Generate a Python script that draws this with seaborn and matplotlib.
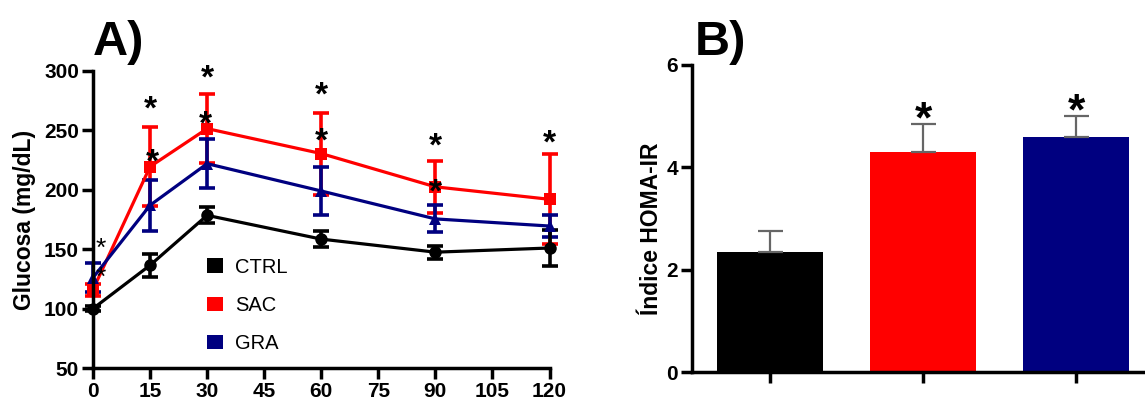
import numpy as np
import pandas as pd
import seaborn as sns
import matplotlib.pyplot as plt
from matplotlib.patches import Patch
from matplotlib.transforms import offset_copy

sns.set_style('ticks')
plt.rcParams['font.family'] = ['Liberation Sans', 'DejaVu Sans']
for k in ['text.color', 'axes.labelcolor', 'xtick.color', 'ytick.color', 'axes.edgecolor']:
    plt.rcParams[k] = 'black'

# --- data: panel A (glucose curve) ---
tiempo = [0, 15, 30, 60, 90, 120]
ctrl_media = [100, 136.5, 178.5, 158.5, 147.5, 151]
ctrl_ee = [2, 9.5, 6.7, 6.5, 5.5, 15]
sac_media = [116, 219.5, 251.5, 230.5, 202.5, 192]
sac_ee = [5, 33.5, 29, 34.5, 22, 38]
gra_media = [126, 187, 222, 199, 175.5, 169.5]
gra_ee = [12, 21.5, 20.5, 20.5, 11.3, 9.3]

# asterisks panel A (x, y, size)
ast_x = [2, 2, 15, 15.5, 30, 29.5, 60, 60, 90, 90, 120]
ast_y = [155, 130, 273, 228, 298.5, 260, 284.5, 246, 241.5, 202.5, 244]
ast_big = [False, False, True, True, True, True, True, True, True, True, True]

# --- data: panel B (HOMA-IR) ---
grupos = ['CTRL', 'SAC', 'GRA']
homa = [2.355, 4.295, 4.59]
homa_ee = [0.405, 0.545, 0.41]
homa_ast_y = [None, 5.09, 5.24]

colores = {'CTRL': '#000000', 'SAC': '#FF0000', 'GRA': '#000080'}

df = pd.DataFrame({
    'tiempo': tiempo * 3,
    'glucosa': ctrl_media + sac_media + gra_media,
    'grupo': ['CTRL'] * 6 + ['SAC'] * 6 + ['GRA'] * 6,
})

fig = plt.figure(figsize=(11.45, 4.03), dpi=100)
axA = fig.add_axes([93 / 1145, 1 - 368 / 403, 456.5 / 1145, 297 / 403])
axB = fig.add_axes([692 / 1145, 1 - 372.3 / 403, 453 / 1145, 307.3 / 403])

#%% panel A
for g, m, e in [('SAC', sac_media, sac_ee), ('GRA', gra_media, gra_ee),
                ('CTRL', ctrl_media, ctrl_ee)]:
    axA.errorbar(tiempo, m, yerr=e, fmt='none', ecolor=colores[g],
                 elinewidth=2.6, capsize=6, capthick=2.6, clip_on=False)
sns.lineplot(data=df, x='tiempo', y='glucosa', hue='grupo', style='grupo',
             hue_order=['SAC', 'GRA', 'CTRL'], style_order=['SAC', 'GRA', 'CTRL'],
             markers={'CTRL': 'o', 'SAC': 's', 'GRA': '^'}, dashes=False,
             palette=colores, markersize=9, markeredgewidth=0, linewidth=2.3,
             legend=False, ax=axA)
for ln in axA.lines:
    ln.set_clip_on(False)

# asterisk glyph sits high in its box, so shift it down to centre the ink
for x, y, big in zip(ast_x, ast_y, ast_big):
    fs = 24 if big else 19
    tr = offset_copy(axA.transData, fig=fig, y=-0.2 * fs, units='points')
    axA.text(x, y, '*', ha='center', va='center', fontsize=fs,
             fontweight='bold' if big else 'normal', transform=tr)

axA.set_xlim(0, 120)
axA.set_ylim(50, 300)
axA.set_xticks(range(0, 121, 15))
axA.set_yticks(range(50, 301, 50))
axA.set_xlabel('')
axA.set_ylabel('Glucosa (mg/dL)', fontsize=16.5, fontweight='bold')
axA.yaxis.set_label_coords(-0.124, 0.5)
axA.tick_params(length=8, width=2.5, labelsize=15, pad=2)
for lab in axA.get_xticklabels() + axA.get_yticklabels():
    lab.set_fontweight('bold')
sns.despine(ax=axA)
for s in ['left', 'bottom']:
    axA.spines[s].set_linewidth(2.5)

hand = [Patch(facecolor=colores[g], edgecolor='none', label=g) for g in grupos]
axA.legend(handles=hand, loc='upper left', bbox_to_anchor=(0.249, 0.372),
           frameon=False, fontsize=14.5, handlelength=0.83, handleheight=0.7,
           handletextpad=0.6, labelspacing=0.95, borderpad=0, borderaxespad=0)

#%% panel B
sns.barplot(x=grupos, y=homa, hue=grupos, palette=colores, width=0.69,
            saturation=1, linewidth=0, legend=False, ax=axB)
axB.errorbar(range(3), homa, yerr=[np.zeros(3), homa_ee], fmt='none',
             ecolor='#666666', elinewidth=1.6, capsize=9, capthick=1.6)
trB = offset_copy(axB.transData, fig=fig, y=-0.2 * 32, units='points')
for i, y in enumerate(homa_ast_y):
    if y is not None:
        axB.text(i, y, '*', ha='center', va='center', fontsize=32,
                 fontweight='bold', transform=trB)

axB.set_xlim(-0.51, 2.45)
axB.set_ylim(0, 6)
axB.set_yticks([0, 2, 4, 6])
axB.set_xticks([0, 1, 2])
axB.set_xticklabels([])
axB.set_ylabel('Índice HOMA-IR', fontsize=16.5, fontweight='bold')
axB.yaxis.set_label_coords(-0.065, 0.466)
axB.tick_params(length=8, width=2.5, labelsize=15, pad=2)
for lab in axB.get_yticklabels():
    lab.set_fontweight('bold')
sns.despine(ax=axB)
for s in ['left', 'bottom']:
    axB.spines[s].set_linewidth(2.5)

fig.text(93 / 1145, 1 - 55 / 403, 'A)', fontsize=35, fontweight='bold',
         va='baseline', ha='left')
fig.text(695 / 1145, 1 - 55 / 403, 'B)', fontsize=35, fontweight='bold',
         va='baseline', ha='left')

fig.savefig('out.png', dpi=100)
